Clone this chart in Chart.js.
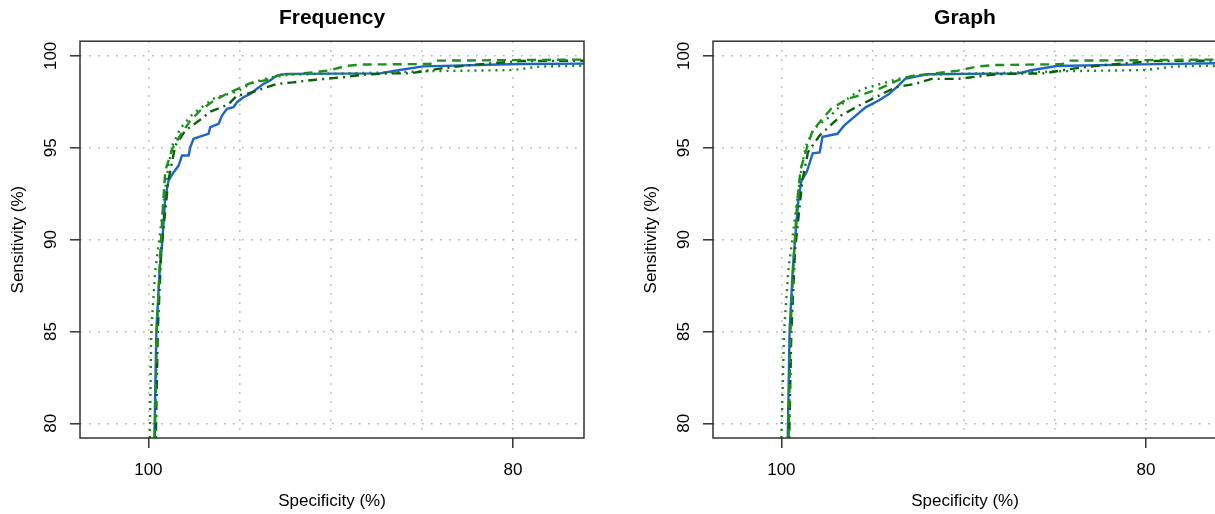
<!DOCTYPE html>
<html>
<head>
<meta charset="utf-8">
<script src="https://cdn.jsdelivr.net/npm/chart.js@4"></script>
<style>
  body { margin: 0; background: #fff; overflow: hidden; width: 1215px; height: 514px; position: relative; }
  canvas { position: absolute; top: 0; }
  #freq { left: 0; }
  #graph { left: 633px; }
</style>
</head>
<body>
<canvas id="freq" width="664" height="514"></canvas>
<canvas id="graph" width="664" height="514"></canvas>
<script>
// ROC points as [specificity %, sensitivity %]
const freqBlue = [[99.67, 79.2], [99.56, 85.06], [99.38, 88.33], [99.23, 89.96], [99.16, 91.04], [99.07, 92.31],
  [98.89, 93.22], [98.61, 93.67], [98.34, 94.03], [98.15, 94.58], [97.79, 94.58], [97.70, 95.03], [97.52, 95.49],
  [96.97, 95.67], [96.70, 95.76], [96.60, 96.12], [96.15, 96.30], [95.96, 96.75], [95.69, 97.12], [95.33, 97.21],
  [95.14, 97.48], [94.78, 97.75], [94.41, 97.93], [94.04, 98.21], [93.68, 98.48], [93.32, 98.66], [92.95, 98.93],
  [92.40, 99.02], [87.30, 99.05], [86.30, 99.22], [84.93, 99.43], [79.62, 99.56], [76.1, 99.58]];
const freqDashed = [[99.64, 79.2], [99.53, 85.06], [99.34, 89.41], [99.18, 92.13], [99.07, 93.76], [98.68, 94.96],
  [98.25, 95.67], [97.70, 96.48], [97.15, 97.03], [96.49, 97.51], [95.78, 97.90], [94.41, 98.51], [93.50, 98.69],
  [92.73, 98.98], [91.85, 99.02], [90.85, 99.11], [90.03, 99.22], [89.15, 99.46], [88.20, 99.53], [84.55, 99.56],
  [84.16, 99.74], [76.1, 99.80]];
const freqDotDash = [[99.59, 79.2], [99.48, 85.06], [99.29, 89.41], [99.07, 91.59], [98.90, 93.22], [98.52, 95.12],
  [97.97, 95.94], [97.21, 96.48], [96.60, 96.97], [95.62, 97.35], [95.14, 97.84], [94.59, 97.93], [92.95, 98.48],
  [92.05, 98.56], [90.96, 98.69], [89.32, 98.84], [88.22, 98.97], [86.74, 99.05], [85.64, 99.05], [84.00, 99.31],
  [82.36, 99.50], [79.62, 99.72], [76.1, 99.74]];
const freqDotted = [[99.92, 79.2], [99.84, 85.06], [99.62, 88.33], [99.34, 90.50], [99.12, 92.40], [98.90, 94.03],
  [98.68, 95.12], [98.25, 96.05], [97.59, 96.81], [96.88, 97.35], [96.33, 97.73], [95.12, 98.06], [94.30, 98.55],
  [93.32, 98.82], [92.22, 98.98], [89.48, 99.04], [87.29, 99.09], [84.55, 99.17], [80.00, 99.23], [78.52, 99.42],
  [76.1, 99.47]];

const graphBlue = [[99.65, 79.2], [99.55, 85.0], [99.38, 88.3], [99.25, 90.0], [99.15, 91.2], [99.05, 92.3],
  [98.90, 93.2], [98.60, 93.7], [98.28, 94.7], [97.90, 94.75], [97.74, 95.6], [96.92, 95.76], [96.56, 96.2],
  [95.92, 96.75], [95.38, 97.2], [94.66, 97.57], [94.10, 97.93], [93.58, 98.38], [93.21, 98.75], [92.49, 98.9],
  [92.0, 99.0], [87.0, 99.05], [86.3, 99.22], [84.9, 99.45], [79.5, 99.55], [76.1, 99.6]];
const graphDashed = [[99.60, 79.2], [99.50, 85.0], [99.30, 89.4], [99.12, 92.2], [98.95, 93.8], [98.60, 95.0],
  [98.28, 95.95], [97.27, 97.12], [96.37, 97.66], [95.73, 97.84], [94.65, 98.2], [93.65, 98.65], [92.92, 98.9],
  [91.75, 99.03], [90.30, 99.2], [89.20, 99.43], [88.30, 99.5], [84.6, 99.55], [84.2, 99.74], [76.1, 99.8]];
const graphDotDash = [[99.57, 79.2], [99.45, 85.0], [99.25, 89.4], [99.02, 91.6], [98.85, 93.2], [98.54, 94.76],
  [97.90, 95.67], [96.73, 96.75], [95.73, 97.3], [94.65, 97.84], [93.74, 98.29], [92.65, 98.48], [91.75, 98.75],
  [90.30, 98.75], [88.85, 98.93], [87.76, 99.02], [85.6, 99.05], [84.0, 99.31], [82.3, 99.5], [79.6, 99.72],
  [76.1, 99.74]];
const graphDotted = [[100.0, 79.2], [99.85, 85.0], [99.62, 88.3], [99.34, 90.5], [99.10, 92.4], [98.88, 94.0],
  [98.65, 95.1], [98.20, 96.05], [97.34, 96.7], [96.28, 97.75], [95.55, 98.2], [94.30, 98.55], [93.3, 98.82],
  [92.2, 98.98], [89.5, 99.04], [87.3, 99.09], [84.5, 99.17], [80.0, 99.23], [78.5, 99.42], [76.1, 99.47]];

const gridTicks = [80, 85, 90, 95, 100];
const specLabelTicks = [100, 80];
const panelTitles = ['Frequency', 'Graph'];

const FONT = "'Liberation Sans', Arial, Helvetica, sans-serif";

function toPoints(pairs) {
  return pairs.map(p => ({x: p[0], y: p[1]}));
}

// R style box round the plot region
const boxPlugin = {
  id: 'box',
  afterDraw(chart) {
    const a = chart.chartArea;
    const ctx = chart.ctx;
    ctx.save();
    ctx.strokeStyle = '#333';
    ctx.lineWidth = 1.5;
    ctx.strokeRect(a.left, a.top, a.right - a.left, a.bottom - a.top);
    ctx.restore();
  }
};

function line(data, color, dash) {
  return {
    data: toPoints(data),
    showLine: true,
    borderColor: color,
    borderWidth: 2.4,
    borderDash: dash,
    pointRadius: 0,
    fill: false
  };
}

function drawRoc(id, title, blue, dashed, dotdash, dotted) {
  const ctx = document.getElementById(id).getContext('2d');
  new Chart(ctx, {
    type: 'scatter',
    data: {
      datasets: [
        line(dashed, '#1e8f1e', [9, 6]),
        line(dotdash, '#0a600a', [2, 5, 9, 5]),
        line(dotted, '#138a13', [2, 5]),
        line(blue, '#1f65c8', [])
      ]
    },
    options: {
      responsive: false,
      animation: false,
      events: [],
      layout: { padding: { left: 0, right: 80, top: 0, bottom: 0 } },
      plugins: {
        legend: { display: false },
        tooltip: { enabled: false },
        title: {
          display: true,
          fullSize: false,
          text: title,
          color: '#000',
          font: { family: FONT, size: 21, weight: 'bold' },
          padding: { top: 6, bottom: 10 }
        }
      },
      scales: {
        x: {
          type: 'linear',
          reverse: true,
          min: 76.1,
          max: 103.75,
          afterBuildTicks: s => { s.ticks = gridTicks.map(v => ({ value: v })); },
          afterFit: s => { s.height = 76; },
          ticks: {
            autoSkip: false,
            maxRotation: 0,
            color: '#000',
            padding: 12,
            font: { family: FONT, size: 17 },
            callback: v => specLabelTicks.includes(v) ? String(v) : ''
          },
          grid: {
            color: '#b3b3b3',
            lineWidth: 1.6,
            tickLength: 10,
            tickWidth: 1.5,
            tickBorderDash: [],
            tickColor: c => (c.tick && specLabelTicks.includes(c.tick.value)) ? '#333' : 'rgba(0,0,0,0)'
          },
          border: { display: false, dash: [1.6, 7.4] },
          title: {
            display: true,
            text: 'Specificity (%)',
            color: '#000',
            font: { family: FONT, size: 17 },
            padding: { top: 0, bottom: 2 }
          }
        },
        y: {
          type: 'linear',
          min: 79.2,
          max: 100.8,
          afterBuildTicks: s => { s.ticks = gridTicks.map(v => ({ value: v })); },
          afterFit: s => { s.width = 80; },
          ticks: {
            minRotation: 90,
            maxRotation: 90,
            crossAlign: 'center',
            color: '#000',
            padding: 5,
            font: { family: FONT, size: 17 }
          },
          grid: {
            color: '#b3b3b3',
            lineWidth: 1.6,
            tickLength: 10,
            tickWidth: 1.5,
            tickBorderDash: [],
            tickColor: '#333'
          },
          border: { display: false, dash: [1.6, 7.4] },
          title: {
            display: true,
            text: 'Sensitivity (%)',
            color: '#000',
            font: { family: FONT, size: 17 },
            padding: { top: 8, bottom: 0 }
          }
        }
      }
    },
    plugins: [boxPlugin]
  });
}

drawRoc('freq', panelTitles[0], freqBlue, freqDashed, freqDotDash, freqDotted);
drawRoc('graph', panelTitles[1], graphBlue, graphDashed, graphDotDash, graphDotted);
</script>
</body>
</html>
